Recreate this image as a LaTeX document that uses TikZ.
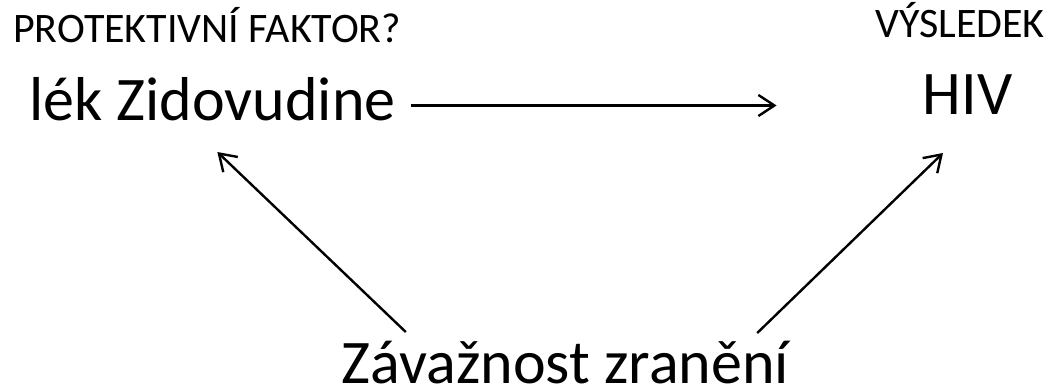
\documentclass[tikz,border=0pt]{standalone}
\usepackage{fontspec}
\setmainfont{Carlito}
\usetikzlibrary{arrows.meta}

\tikzset{
    big/.style={inner sep=0pt, font=\fontsize{62}{64}\selectfont},
    small/.style={inner sep=0pt, font=\fontsize{42}{44}\selectfont},
    arr/.style={line width=2.4pt, -{Straight Barb[length=16pt,width=21pt]}}
}

\begin{document}
\begin{tikzpicture}[x=1pt, y=-1pt]
    \useasboundingbox (0,0) rectangle (1048,390);
    % labels
    \node[small, anchor=base west] (prot) at (13,43) {PROTEKTIVNÍ FAKTOR?};
    \node[small, anchor=base east] (vysl) at (1045,38) {VÝSLEDEK};
    % nodes
    \node[big, anchor=base west] (lek) at (29,121) {lék Zidovudine};
    \node[big, anchor=base] (hiv) at (967.5,115) {HIV};
    \node[big, anchor=base] (zav) at (565.5,383) {Závažnost zranění};
    % arrows
    \draw[arr] ([xshift=15pt,yshift=15.5pt]lek.base east) -- ([xshift=-146pt,yshift=9.5pt]hiv.base west);
    \draw[arr] ([xshift=64pt,yshift=51pt]zav.base west) -- ([xshift=5pt,yshift=-31pt]lek.base);
    \draw[arr] ([xshift=-32pt,yshift=50pt]zav.base east) -- ([xshift=-24.5pt,yshift=-38pt]hiv.base);
\end{tikzpicture}
\end{document}
